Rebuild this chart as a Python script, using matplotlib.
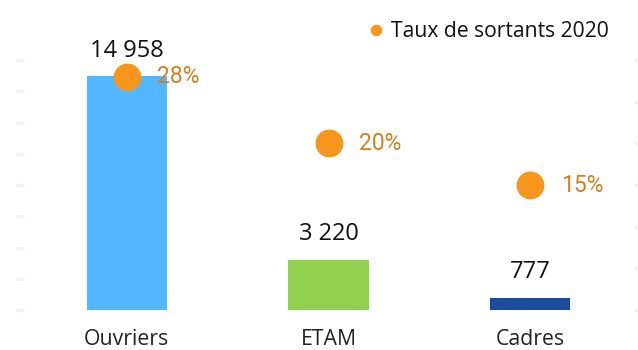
import numpy as np
import matplotlib.pyplot as plt

categories = ['Ouvriers', 'ETAM', 'Cadres']
effectifs = [14958, 3220, 777]
taux_sortants = [0.28, 0.20, 0.15]
bar_colors = ['#52b7ff', '#92d050', '#1b4c9e']
effectif_labels = ['14 958', '3 220', '777']
taux_labels = ['28%', '20%', '15%']

fig = plt.figure(figsize=(6.38, 3.5), dpi=100)
ax = fig.add_axes([24 / 638, 40 / 350, 609 / 638, 250 / 350])
ax2 = ax.twinx()

x = np.arange(len(categories))
bars = ax.bar(x, effectifs, width=0.4, color=bar_colors, zorder=2)
ax.set_xlim(-0.51, 2.51)
ax.set_ylim(0, 16000)
ax.set_yticks(np.arange(0, 16001, 2000))
ax.set_xticks(x)
ax.set_xticklabels(categories, family='Open Sans', fontsize=15.3, color='#222222')
ax.tick_params(axis='x', length=0, pad=13.5)
ax.tick_params(axis='y', labelleft=False, length=6, width=2.5, color='#f3f3f3')

for xi, v, lab in zip(x, effectifs, effectif_labels):
    ax.annotate(lab, (xi, v), xytext=(0, 18.5), textcoords='offset points',
                ha='center', va='center', family='Open Sans', fontsize=17,
                color='#111111')

ax2.set_ylim(0, 0.30)
ax2.set_yticks(np.arange(0, 0.301, 0.05))
ax2.tick_params(axis='y', labelright=False, length=6, width=2.5, color='#f3f3f3')
ax2.plot(x, taux_sortants, linestyle='none', marker='o', markersize=19,
         color='#f7961d', zorder=3, label='Taux de sortants 2020')
for xi, t, lab in zip(x, taux_sortants, taux_labels):
    ax2.annotate(lab, (xi, t), xytext=(22, 0), textcoords='offset points',
                 ha='left', va='center', family='Roboto', fontsize=16.5,
                 color='#d4801c')

for a in (ax, ax2):
    for s in a.spines.values():
        s.set_visible(False)

leg = ax2.legend(loc='upper right', bbox_to_anchor=(575 / 609 + 0.03, 1.19),
                 frameon=False, markerscale=0.38, handlelength=0.8,
                 handletextpad=0.3, borderaxespad=0,
                 prop={'family': 'Open Sans', 'size': 15.2})
for t in leg.get_texts():
    t.set_color('#111111')

fig.savefig('out.png', dpi=100)
